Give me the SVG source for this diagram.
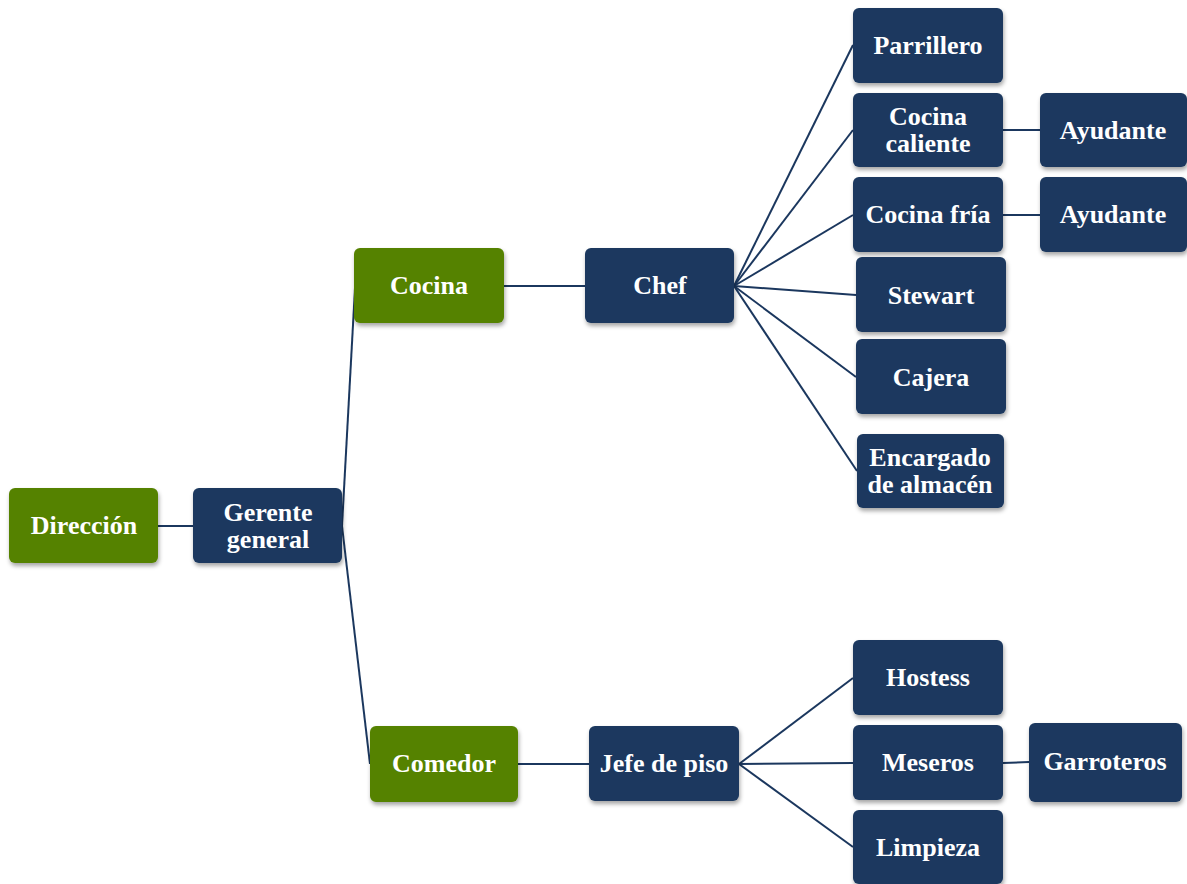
<svg xmlns="http://www.w3.org/2000/svg" width="1187" height="884" viewBox="0 0 1187 884">
<defs>
<filter id="sh" x="-10%" y="-10%" width="130%" height="140%">
<feDropShadow dx="1" dy="3" stdDeviation="2" flood-color="#000" flood-opacity="0.35"/>
</filter>
<style>
.n rect{filter:url(#sh);}
.b rect{fill:#1b375e;}
.g rect{fill:#558203;}
text{font-family:"Liberation Serif","Times New Roman",serif;font-weight:bold;font-size:26px;fill:#fff;text-anchor:middle;}
#connectors path{stroke:#1b375e;stroke-width:2;fill:none;}
</style>
</defs>
<rect width="1187" height="884" fill="#fff"/>
<g id="connectors">
<path d="M158 526H193"/>
<path d="M342 526L355 288"/>
<path d="M342 526L370 764"/>
<path d="M504 286H585"/>
<path d="M734 286L853 45"/>
<path d="M734 286L853 130"/>
<path d="M734 286L853 215"/>
<path d="M734 286L856 295"/>
<path d="M734 286L856 377"/>
<path d="M734 286L857 471"/>
<path d="M1003 130H1040"/>
<path d="M1003 215H1040"/>
<path d="M518 764H589"/>
<path d="M739 764L853 678"/>
<path d="M739 764L853 763"/>
<path d="M739 764L853 847"/>
<path d="M1003 763L1029 762"/>
</g>
<g id="direccion" class="n g"><rect x="9" y="488" width="149" height="75" rx="6"/><text x="84" y="534">Dirección</text></g>
<g id="gerente" class="n b"><rect x="193" y="488" width="149" height="75" rx="6"/><text x="268" y="521">Gerente</text><text x="268" y="548">general</text></g>
<g id="cocina" class="n g"><rect x="354" y="248" width="150" height="75" rx="6"/><text x="429" y="294">Cocina</text></g>
<g id="chef" class="n b"><rect x="585" y="248" width="149" height="75" rx="6"/><text x="660" y="294">Chef</text></g>
<g id="parrillero" class="n b"><rect x="853" y="8" width="150" height="75" rx="6"/><text x="928" y="54">Parrillero</text></g>
<g id="cocina-caliente" class="n b"><rect x="853" y="93" width="150" height="74" rx="6"/><text x="928" y="125">Cocina</text><text x="928" y="152">caliente</text></g>
<g id="ayudante1" class="n b"><rect x="1040" y="93" width="147" height="74" rx="6"/><text x="1113" y="139">Ayudante</text></g>
<g id="cocina-fria" class="n b"><rect x="853" y="177" width="150" height="75" rx="6"/><text x="928" y="223">Cocina fría</text></g>
<g id="ayudante2" class="n b"><rect x="1040" y="177" width="147" height="75" rx="6"/><text x="1113" y="223">Ayudante</text></g>
<g id="stewart" class="n b"><rect x="856" y="257" width="150" height="75" rx="6"/><text x="931" y="304">Stewart</text></g>
<g id="cajera" class="n b"><rect x="856" y="339" width="150" height="75" rx="6"/><text x="931" y="386">Cajera</text></g>
<g id="encargado" class="n b"><rect x="857" y="434" width="147" height="74" rx="6"/><text x="930" y="466">Encargado</text><text x="930" y="493">de almacén</text></g>
<g id="comedor" class="n g"><rect x="370" y="726" width="148" height="76" rx="6"/><text x="444" y="772">Comedor</text></g>
<g id="jefe" class="n b"><rect x="589" y="726" width="150" height="75" rx="6"/><text x="664" y="772">Jefe de piso</text></g>
<g id="hostess" class="n b"><rect x="853" y="640" width="150" height="75" rx="6"/><text x="928" y="686">Hostess</text></g>
<g id="meseros" class="n b"><rect x="853" y="725" width="150" height="75" rx="6"/><text x="928" y="771">Meseros</text></g>
<g id="garroteros" class="n b"><rect x="1029" y="723" width="153" height="79" rx="6"/><text x="1105" y="770">Garroteros</text></g>
<g id="limpieza" class="n b"><rect x="853" y="810" width="150" height="74" rx="6"/><text x="928" y="856">Limpieza</text></g>
</svg>
